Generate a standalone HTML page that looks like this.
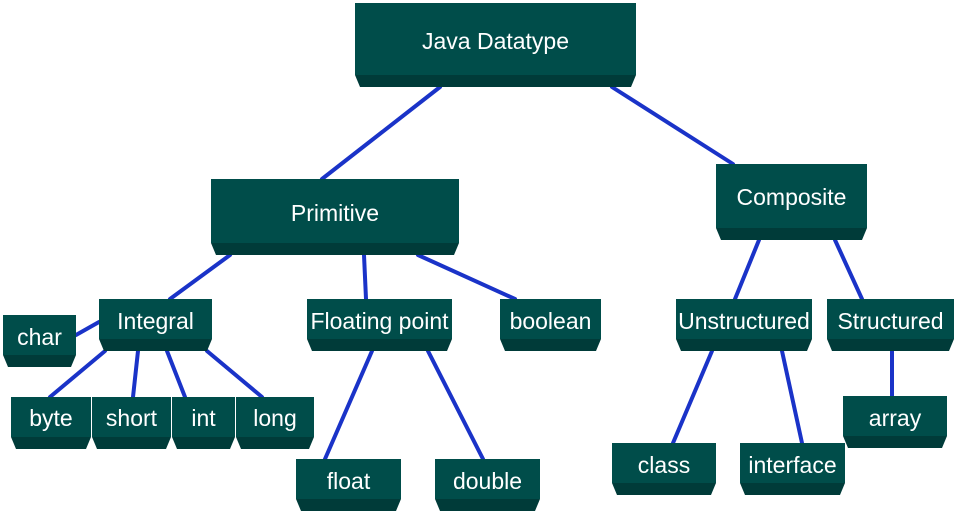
<!DOCTYPE html><html><head><style>body{margin:0;background:#fff}svg{display:block}text{font-family:"Liberation Sans",Arial,sans-serif;fill:#fff;font-size:23px;text-anchor:middle}</style></head><body>
<svg width="964" height="515" viewBox="0 0 964 515">
<g stroke="#1a33c8" stroke-width="4" stroke-linecap="round">
<line x1="440" y1="87" x2="322" y2="179"/><line x1="612" y1="87" x2="733" y2="164"/>
<line x1="230" y1="255" x2="170" y2="299"/><line x1="364" y1="255" x2="366" y2="299"/><line x1="418" y1="255" x2="515" y2="299"/>
<line x1="99" y1="322" x2="76" y2="335"/>
<line x1="105" y1="351" x2="50" y2="397"/><line x1="138" y1="351" x2="133" y2="397"/><line x1="167" y1="351" x2="185" y2="397"/><line x1="207" y1="351" x2="262" y2="397"/>
<line x1="372" y1="351" x2="325" y2="459"/><line x1="428" y1="351" x2="483" y2="459"/>
<line x1="759" y1="240" x2="735" y2="299"/><line x1="835" y1="240" x2="862" y2="299"/>
<line x1="712" y1="351" x2="673" y2="443"/><line x1="782" y1="351" x2="802" y2="443"/>
<line x1="892" y1="351" x2="892" y2="396"/>
</g>
<g id="boxes"></g>
</svg>
<script>
var B=[["Java Datatype",355,3,636,87,41],["Primitive",211,179,459,255,213],["Composite",716,164,867,240,197],
["char",3,315,76,367,337],["Integral",99,299,212,351,321],["Floating point",307,299,452,351,321],["boolean",500,299,601,351,321],
["Unstructured",676,299,812,351,321],["Structured",827,299,954,351,321],
["byte",11,397,91,449,418],["short",92,397,171,449,418],["int",172,397,235,449,418],["long",236,397,314,449,418],
["float",296,459,401,511,481],["double",435,459,540,511,481],["class",612,443,716,495,465],["interface",740,443,845,495,465],["array",843,396,947,448,418]];
var g=document.getElementById("boxes"),s="";
B.forEach(function(b){var x1=b[1],y1=b[2],x2=b[3],y2=b[4],h=12,yb=y2-h,c=5;
s+='<rect x="'+x1+'" y="'+y1+'" width="'+(x2-x1)+'" height="'+(yb-y1)+'" fill="#004d4a"/>';
s+='<polygon points="'+x1+','+yb+' '+x2+','+yb+' '+(x2-c)+','+y2+' '+(x1+c)+','+y2+'" fill="#003b39"/>';
s+='<text x="'+((x1+x2)/2)+'" y="'+(b[5]+8)+'">'+b[0]+'</text>';});
g.innerHTML=s;
</script>
</body></html>
